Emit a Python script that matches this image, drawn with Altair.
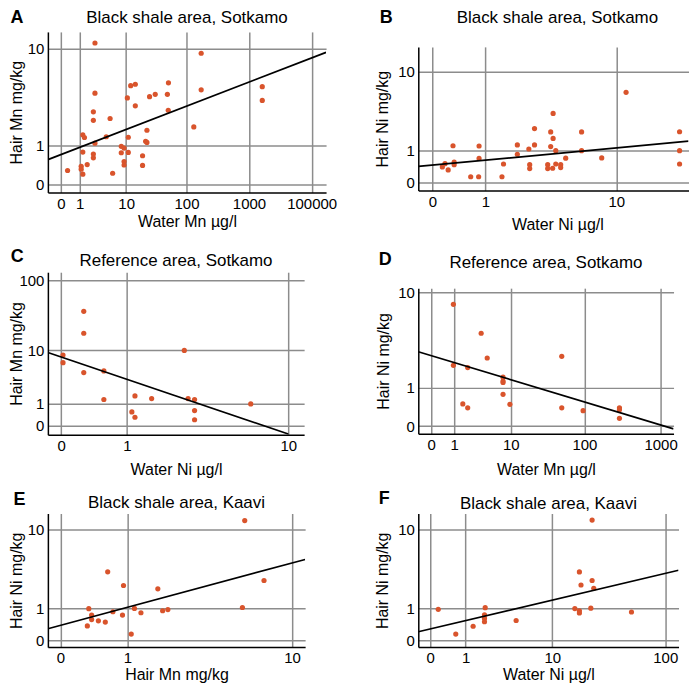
import altair as alt
import pandas as pd

FONT = "Liberation Sans"
DOT = "#d9542c"

# ---- Panel A: Black shale area, Sotkamo (Water Mn vs Hair Mn)
a_water_mn = [2.5, 51, 12, 14.4, 2.5, 10.5, 25, 31, 49, 14.4, 50.6, 2.3, 2.3, 5.1, 22.6,
              1.24, 1.38, 4.3, 10.9, 2.5, 21.5, 22.6, 8.2, 9.2, 1.24, 2.3, 2.3, 8.2, 10.9,
              19.1, 9.2, 9.2, 19.1, 1.63, 1.11, 1.11, 1.24, 0.28, 5.7, 131, 172, 172, 1630, 1630]
a_hair_mn = [11.1, 5.0, 4.7, 4.85, 4.0, 3.6, 3.7, 3.9, 3.9, 3.0, 2.7, 2.6, 2.1, 2.2, 1.6,
             1.4, 1.29, 1.32, 1.3, 1.07, 1.14, 1.1, 0.96, 0.9, 0.77, 0.71, 0.6, 0.75, 0.76,
             0.66, 0.5, 0.41, 0.4, 0.42, 0.38, 0.31, 0.2, 0.28, 0.22, 1.76, 9.1, 4.3, 4.6, 3.4]
a_fit_x = [-0.61, 16980]
a_fit_y = [0.55, 9.26]

# ---- Panel B: Black shale area, Sotkamo (Water Ni vs Hair Ni)
b_water_ni = [3.83, 2.79, 3.68, 6.0, 3.83, 2.03, 2.79, 3.68, 0.31, 0.84, 2.52, 4.0, 6.0, 2.03,
              0.84, 4.69, 8.1, 0.33, 0.18, 0.33, 0.14, 0.23, 1.53, 2.56, 2.56, 3.5, 3.5, 3.8,
              4.0, 4.33, 4.33, 0.65, 0.83, 1.48, 11.5, 24.1, 24.1, 24.1]
b_hair_ni = [3.45, 2.21, 1.99, 1.99, 1.6, 1.26, 1.26, 1.18, 1.22, 1.21, 1.07, 1.0, 1.0, 0.85,
             0.69, 0.70, 0.71, 0.56, 0.51, 0.48, 0.41, 0.32, 0.5, 0.48, 0.36, 0.48, 0.36, 0.37,
             0.5, 0.48, 0.39, 0.14, 0.14, 0.14, 6.0, 2.0, 1.0, 0.5]
b_fit_x = [-0.2, 27.2]
b_fit_y = [0.423, 1.453]

# ---- Panel C: Reference area, Sotkamo (Water Ni vs Hair Mn)
c_water_ni = [0.27, 0.27, 2.67, 0.02, 0.02, 0.27, 0.57, 0.57, 1.18, 1.6, 2.82, 3.09, 6.4,
              1.11, 1.18, 3.09, 3.09]
c_hair_mn = [36.6, 17.8, 9.9, 8.4, 6.4, 4.4, 4.7, 1.3, 1.58, 1.37, 1.37, 1.3, 1.0,
             0.55, 0.31, 0.62, 0.21]
c_fit_x = [-0.15, 10]
c_fit_y = [9.2, -0.3]

# ---- Panel D: Reference area, Sotkamo (Water Mn vs Hair Ni)
d_water_mn = [0.95, 3.5, 50, 4.4, 0.95, 2.0, 7.7, 7.7, 7.7, 7.7, 1.59, 2.0, 9.7, 50, 96,
              289, 289, 289]
d_hair_ni = [7.9, 4.3, 2.5, 2.4, 1.98, 1.86, 1.41, 1.25, 1.19, 0.77, 0.49, 0.39, 0.48, 0.39,
             0.32, 0.39, 0.34, 0.15]
d_fit_x = [-0.476, 1478]
d_fit_y = [2.8, -0.05]

# ---- Panel E: Black shale area, Kaavi (Hair Mn vs Hair Ni)
e_hair_mn = [0.63, 0.92, 1.74, 0.34, 0.38, 0.72, 0.9, 1.15, 1.3, 1.88, 2.04, 0.38, 0.48,
             0.59, 0.32, 1.08, 5.74, 7.23, 5.58]
e_hair_ni = [3.4, 2.28, 2.05, 0.99, 0.73, 0.86, 0.73, 1.0, 0.82, 0.9, 0.95, 0.57, 0.53,
             0.49, 0.37, 0.15, 12.3, 2.65, 1.04]
e_fit_x = [-0.14, 11.6]
e_fit_y = [0.29, 4.75]

# ---- Panel F: Black shale area, Kaavi (Water Ni vs Hair Ni)
f_water_ni = [23, 17.7, 23, 18.3, 23.8, 0.17, 1.94, 16.1, 17.7, 17.7, 22.4, 51, 1.9, 1.9,
              1.9, 4.4, 1.32, 0.65]
f_hair_ni = [12.4, 3.39, 2.65, 2.31, 2.08, 0.96, 1.03, 0.99, 0.9, 0.81, 1.01, 0.85, 0.74,
             0.61, 0.5, 0.54, 0.36, 0.15]
f_fit_x = [-0.265, 130]
f_fit_y = [0.21, 3.55]


def axis(values, title, orient, size, title_pos, title_center,
         label_expr="datum.label", lpad=4):
    common = dict(
        values=values, format="d", labelExpr=label_expr, title=title, grid=True,
        ticks=False, tickSize=0, labelPadding=lpad, labelFontSize=15, labelFont=FONT,
        labelColor="black", labelFlush=False, labelOverlap=False,
        titleFontSize=16, titleFont=FONT, titleFontWeight="normal", titleColor="black",
        domainColor="black", domainWidth=1.5, gridColor="#8c8c8c", gridWidth=1.5,
    )
    if orient == "x":
        return alt.Axis(titleX=title_center, titleY=title_pos, titleAngle=0,
                        titleAlign="center", titleBaseline="alphabetic", **common)
    return alt.Axis(titleX=title_pos, titleY=title_center, titleAngle=270,
                    titleAlign="center", titleBaseline="middle", **common)


def panel(xs, ys, fx, fy, xdom, ydom, xticks, yticks, xtitle, ytitle, w, h,
          letter, title, let_dx, let_dy, tit_dy, ytit_x, xtit_y,
          xlabel_expr="datum.label", cx=None, xlpad=4):
    cx = w / 2 if cx is None else cx
    pts = pd.DataFrame({"x": xs, "y": ys})
    fit = pd.DataFrame({"x": fx, "y": fy})
    xs_ = alt.Scale(type="symlog", constant=1, domain=xdom, nice=False)
    ys_ = alt.Scale(type="symlog", constant=1, domain=ydom, nice=False)
    xa = axis(xticks, xtitle, "x", w, xtit_y, cx, xlabel_expr, xlpad)
    ya = axis(yticks, ytitle, "y", h, ytit_x, h / 2)
    points = alt.Chart(pts).mark_circle(size=27, color=DOT, opacity=1).encode(
        x=alt.X("x:Q", scale=xs_, axis=xa),
        y=alt.Y("y:Q", scale=ys_, axis=ya),
    )
    line = alt.Chart(fit).mark_line(color="black", strokeWidth=1.7, clip=True).encode(
        x=alt.X("x:Q", scale=xs_),
        y=alt.Y("y:Q", scale=ys_),
    )
    lab = pd.DataFrame({"letter": [letter], "title": [title]})
    let_mark = alt.Chart(lab).mark_text(
        font=FONT, fontSize=18, fontWeight="bold", align="left",
        baseline="alphabetic", color="black").encode(
        text="letter:N", x=alt.value(let_dx), y=alt.value(let_dy))
    tit_mark = alt.Chart(lab).mark_text(
        font=FONT, fontSize=17, align="center", baseline="alphabetic",
        color="black").encode(
        text="title:N", x=alt.value(cx), y=alt.value(tit_dy))
    return alt.layer(points, line, let_mark, tit_mark).properties(width=w, height=h)


def spacer(w, h):
    return alt.Chart(pd.DataFrame({"t": [""]})).mark_text().encode(
        text="t:N").properties(width=w, height=h)


A = panel(a_water_mn, a_hair_mn, a_fit_x, a_fit_y, [-0.61, 16980], [-0.15, 13.7],
          [0, 1, 10, 100, 1000, 10000], [0, 1, 10], "Water Mn µg/l", "Hair Mn mg/kg",
          279, 161, "A", "Black shale area, Sotkamo", -37.5, -9, -9, -31.5, 34,
          xlabel_expr="datum.value == 10000 ? '100000' : datum.label")
B = panel(b_water_ni, b_hair_ni, b_fit_x, b_fit_y, [-0.2, 27.2], [-0.177, 17.6],
          [0, 1, 10], [0, 1, 10], "Water Ni µg/l", "Hair Ni mg/kg",
          271, 144, "B", "Black shale area, Sotkamo", -38.6, -24, -24, -36, 39, cx=139.5)
C = panel(c_water_ni, c_hair_mn, c_fit_x, c_fit_y, [-0.15, 12.0], [-0.328, 129],
          [0, 1, 10], [0, 1, 10, 100], "Water Ni µg/l", "Hair Mn mg/kg",
          257, 163, "C", "Reference area, Sotkamo", -37.3, -10, -6, -31.5, 39.5)
D = panel(d_water_mn, d_hair_ni, d_fit_x, d_fit_y, [-0.476, 1478], [-0.146, 10.9],
          [0, 1, 10, 100, 1000], [0, 1, 10], "Water Mn µg/l", "Hair Ni mg/kg",
          256, 146, "D", "Reference area, Sotkamo", -39.6, -23.3, -20, -35.3, 40.5)
E = panel(e_hair_mn, e_hair_ni, e_fit_x, e_fit_y, [-0.14, 11.6], [-0.153, 14.5],
          [0, 1, 10], [0, 1, 10], "Hair Mn mg/kg", "Hair Ni mg/kg",
          258, 134, "E", "Black shale area, Kaavi", -34.4, -8.3, -6, -31.5, 32.5, xlpad=3)
F = panel(f_water_ni, f_hair_ni, f_fit_x, f_fit_y, [-0.265, 130], [-0.152, 14.45],
          [0, 1, 10, 100], [0, 1, 10], "Water Ni µg/l", "Hair Ni mg/kg",
          261, 134, "F", "Black shale area, Kaavi", -39.6, -10, -5, -36.3, 32.5, xlpad=3)

left = alt.vconcat(A, spacer(257, 70), C, spacer(257, 69), E,
                   spacing=5, bounds="flush")
right = alt.vconcat(spacer(256, 10), B, spacer(256, 88), D, spacer(256, 70), F,
                    spacing=5, bounds="flush")
chart = alt.hconcat(left, right, spacing=36.5).properties(
    padding={"left": 0, "top": 0, "right": 0, "bottom": 0},
    background="white",
).configure_view(stroke=None)

chart.save("out.html", embed_options={"renderer": "svg", "actions": False})
